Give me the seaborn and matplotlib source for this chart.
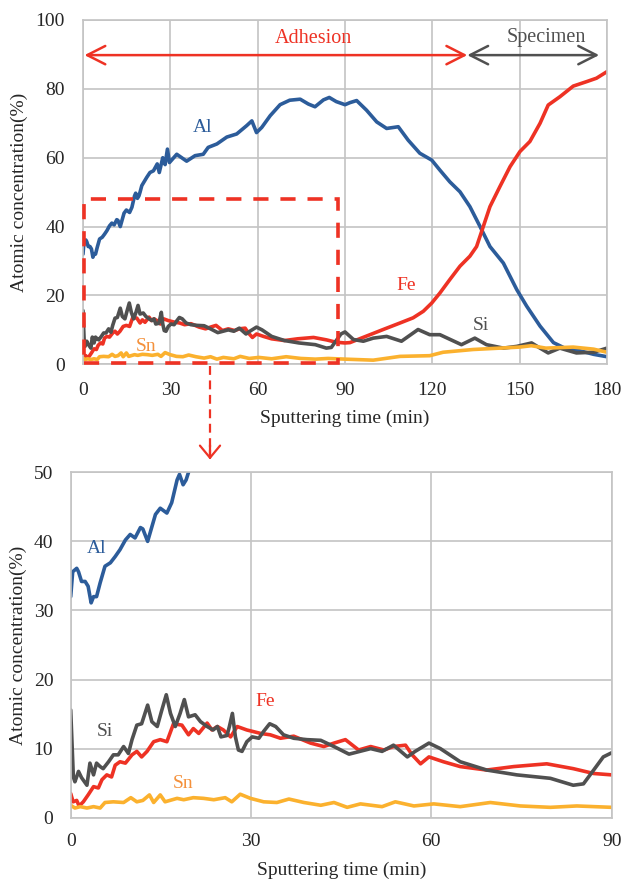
import numpy as np
import pandas as pd
import matplotlib
matplotlib.use("Agg")
import matplotlib.pyplot as plt
import seaborn as sns
from matplotlib.patches import Rectangle
from matplotlib.lines import Line2D

# ---------------- data ----------------
al_t = [0, 0.33, 1.0, 1.3, 1.8, 2.4, 2.9, 3.4, 3.8, 4.3, 4.9, 5.7, 6.6, 7.4, 8.2, 9.1, 9.9, 10.7,
        11.6, 12.0, 12.8, 13.2, 14.1, 14.9, 16.0, 16.8, 17.7, 18.1, 18.7, 19.2, 19.6, 20.2, 21.9,
        23.0, 24.2, 25.5, 26.2, 27.4, 28.2, 29.0, 29.7, 32.2, 35.6, 38.5, 41.3, 43.0, 46.0, 49.4,
        52.8, 56.2, 58.0, 59.6, 61.4, 64.3, 67.7, 71.0, 74.6, 77.4, 79.7, 82.6, 84.6, 87.0, 90.0,
        91.7, 94.0, 97.4, 100.9, 104.3, 108.3, 111.7, 115.7, 119.8, 122.6, 126.0, 129.5, 132.9,
        136.4, 139.8, 144.4, 149.0, 152.4, 157.0, 161.6, 166.2, 170.8, 175.4, 180.0]
al_v = [32.0, 35.6, 36.1, 35.6, 34.2, 34.2, 33.5, 31.1, 32.0, 32.0, 34.0, 36.4, 36.9, 37.8, 38.8,
        40.2, 41.0, 40.5, 42.0, 41.8, 40.0, 41.2, 43.9, 44.8, 44.1, 45.6, 48.9, 49.7, 48.2, 48.9,
        50.0, 51.9, 54.3, 55.7, 56.2, 58.2, 55.7, 60.0, 58.0, 62.5, 58.6, 61.0, 59.0, 60.6, 61.0,
        63.0, 64.0, 66.0, 66.9, 69.3, 70.7, 67.3, 68.8, 72.2, 75.4, 76.7, 77.0, 75.6, 74.8, 76.8,
        77.5, 76.3, 75.4, 76.0, 76.6, 73.8, 70.4, 68.5, 69.0, 65.1, 61.3, 59.3, 56.4, 53.0, 50.1,
        45.8, 40.0, 34.2, 29.4, 21.7, 16.9, 11.1, 6.3, 4.4, 3.9, 2.9, 2.2]

fe_t = [0, 0.4, 1.0, 1.4, 2.1, 2.9, 3.8, 4.6, 5.2, 6.0, 6.8, 7.4, 8.2, 9.1, 10.2, 11.0, 11.8,
        12.7, 13.8, 14.9, 16.0, 17.1, 18.5, 19.6, 20.4, 21.3, 22.7, 23.5, 24.4, 25.4, 26.6, 27.7,
        29.3, 31.6, 33.2, 34.9, 37.1, 39.9, 42.1, 43.8, 45.7, 47.9, 49.9, 52.1, 53.7, 55.7, 56.8,
        58.2, 59.6, 62.0, 64.8, 69.2, 73.7, 79.2, 83.6, 87.0, 90.0, 91.7, 97.4, 103.1, 108.9,
        113.4, 116.9, 119.8, 122.6, 126.0, 129.5, 132.9, 135.2, 137.5, 139.8, 143.2, 146.7,
        150.1, 153.5, 157.0, 159.8, 163.8, 168.4, 173.0, 176.4, 180.0]
fe_v = [3.5, 2.3, 2.5, 1.7, 2.3, 3.3, 4.5, 4.3, 5.5, 6.2, 5.9, 7.6, 8.1, 7.9, 9.1, 9.6, 8.8, 9.6,
        11.0, 11.3, 11.0, 13.6, 13.4, 12.0, 12.9, 12.2, 13.7, 12.7, 13.2, 12.7, 11.7, 13.2, 12.7,
        12.2, 12.0, 11.5, 11.8, 10.8, 10.3, 10.8, 11.3, 9.8, 10.3, 9.8, 10.3, 10.5, 9.1, 7.8, 8.8,
        8.1, 7.4, 6.9, 7.4, 7.8, 7.1, 6.4, 6.2, 6.3, 8.2, 10.1, 12.0, 13.5, 15.4, 17.8, 20.7, 24.6,
        28.5, 31.4, 34.2, 40.0, 45.8, 51.6, 57.4, 61.8, 64.7, 70.0, 75.3, 77.7, 80.8, 82.1, 83.1,
        85.0]

si_t = [0, 0.44, 0.7, 1.3, 1.8, 2.7, 3.2, 3.8, 4.3, 4.9, 5.4, 6.3, 7.1, 7.9, 8.8, 9.6, 10.2,
        11.0, 11.8, 12.8, 13.5, 14.4, 15.1, 15.9, 16.6, 17.4, 18.2, 18.9, 19.6, 20.7, 21.6, 22.7,
        23.7, 24.4, 25.0, 26.0, 26.4, 26.9, 27.4, 27.9, 28.5, 29.3, 30.2, 31.3, 32.1, 33.1, 34.1,
        35.4, 37.1, 39.3, 41.6, 43.8, 46.3, 49.9, 51.8, 53.7, 56.0, 57.3, 59.6, 61.5, 64.8, 69.2,
        74.2, 79.8, 83.6, 85.3, 87.0, 88.6, 90.0, 92.9, 96.3, 99.7, 104.3, 109.4, 115.1, 119.1,
        122.6, 130.0, 134.6, 138.6, 144.4, 149.0, 154.1, 157.0, 159.8, 163.8, 169.5, 175.4, 180.0]
si_v = [15.6, 5.9, 5.2, 6.7, 5.8, 4.7, 7.9, 6.2, 7.9, 7.4, 7.1, 8.1, 9.1, 9.1, 10.3, 9.3, 11.3,
        13.4, 13.6, 16.3, 13.9, 13.2, 15.4, 17.8, 15.1, 13.2, 15.1, 17.1, 14.6, 14.9, 13.9, 13.2,
        12.7, 13.2, 11.7, 11.9, 13.2, 15.1, 11.7, 9.8, 9.6, 11.0, 11.7, 11.5, 12.5, 13.6, 13.2,
        12.0, 11.5, 11.3, 11.2, 10.3, 9.2, 10.0, 9.6, 10.5, 8.8, 9.6, 10.8, 10.0, 8.1, 6.9, 6.2,
        5.7, 4.7, 4.9, 6.9, 8.8, 9.4, 7.2, 6.7, 7.6, 8.1, 6.7, 10.1, 8.6, 8.6, 5.7, 7.6, 5.7, 4.7,
        5.2, 6.2, 4.7, 3.3, 4.7, 3.3, 3.5, 4.7]

sn_t = [0, 0.7, 1.6, 2.7, 3.8, 4.9, 5.7, 7.1, 8.8, 10.0, 11.0, 12.0, 13.1, 13.8, 14.9, 15.7, 17.7,
        18.8, 20.4, 22.1, 23.8, 25.7, 26.8, 28.2, 29.9, 32.1, 34.3, 36.3, 38.8, 41.6, 43.8, 46.0,
        48.2, 51.8, 54.0, 57.1, 60.4, 64.8, 69.8, 74.8, 79.8, 84.2, 90.0, 99.7, 108.9, 119.1,
        123.7, 134.0, 143.2, 150.0, 154.0, 159.0, 168.4, 175.4, 180.0]
sn_v = [1.8, 1.4, 1.6, 1.4, 1.6, 1.4, 2.2, 2.3, 2.2, 2.9, 2.3, 2.5, 3.3, 2.2, 3.3, 2.3, 2.8, 2.6,
        2.9, 2.8, 2.6, 2.9, 2.3, 3.4, 2.8, 2.3, 2.2, 2.7, 2.2, 1.8, 2.2, 1.5, 2.0, 1.6, 2.3, 1.7,
        2.0, 1.6, 2.2, 1.7, 1.5, 1.7, 1.5, 1.2, 2.3, 2.5, 3.5, 4.3, 4.7, 5.0, 5.4, 4.7, 5.0, 4.4,
        3.5]

top_xticks = [0, 30, 60, 90, 120, 150, 180]
top_yticks = [0, 20, 40, 60, 80, 100]
bot_xticks = [0, 30, 60, 90]
bot_yticks = [0, 10, 20, 30, 40, 50]
xlabel = "Sputtering time (min)"
ylabel = "Atomic concentration(%)"

# ---------------- style ----------------
sns.set_style("white")
plt.rcParams["font.family"] = ["Liberation Serif", "DejaVu Serif"]

RED = "#EE3224"
BLUE = "#2C5C9A"
GRAY = "#505050"
ORANGE = "#FBB12E"
SNLAB = "#F4913C"
GRID = "#C4C4C4"
TXT = "#262626"

series = [
    ("Al", al_t, al_v, BLUE),
    ("Fe", fe_t, fe_v, RED),
    ("Si", si_t, si_v, GRAY),
    ("Sn", sn_t, sn_v, ORANGE),
]

W, H = 622, 881
fig = plt.figure(figsize=(W / 100, H / 100), dpi=100)
ax1 = fig.add_axes([83 / W, 1 - 364.3 / H, (607 - 83) / W, (364.3 - 20) / H])
ax2 = fig.add_axes([70.7 / W, 1 - 817.7 / H, 541 / W, 345.4 / H])


def style_axes(ax, xt, yt, xpad, ypad):
    ax.set_xticks(xt)
    ax.set_yticks(yt)
    ax.grid(True, color=GRID, lw=1.2)
    ax.set_axisbelow(True)
    for s in ax.spines.values():
        s.set_color(GRID)
        s.set_linewidth(1.2)
    ax.tick_params(axis="x", length=0, pad=xpad, labelsize=14, labelcolor=TXT)
    ax.tick_params(axis="y", length=0, pad=ypad, labelsize=14, labelcolor=TXT)


for ax in (ax1, ax2):
    for name, t, v, c in series:
        df = pd.DataFrame({"t": t, "v": v})
        sns.lineplot(data=df, x="t", y="v", ax=ax, color=c, lw=2.6,
                     sort=False, estimator=None, legend=False,
                     solid_joinstyle="round", solid_capstyle="round")

ax1.set_xlim(0, 180)
ax1.set_ylim(0, 100)
ax2.set_xlim(0, 90)
ax2.set_ylim(0, 50)
style_axes(ax1, top_xticks, top_yticks, 13, 13)
style_axes(ax2, bot_xticks, bot_yticks, 11, 12.5)

for ax, xly, ylx in ((ax1, -0.133, -0.105), (ax2, -0.128, -0.081)):
    ax.set_xlabel(xlabel, fontsize=14, color=TXT)
    ax.set_ylabel(ylabel, fontsize=14, color=TXT)
    ax.xaxis.set_label_coords(0.5, xly)
    ax.yaxis.set_label_coords(ylx, 0.5)

# ---------------- top annotations ----------------
ax1.text(41.1, 68.9, "Al", color=BLUE, fontsize=14, ha="center", va="center")
ax1.text(111, 23, "Fe", color=RED, fontsize=14, ha="center", va="center")
ax1.text(136.7, 11.3, "Si", color=GRAY, fontsize=14, ha="center", va="center")
ax1.text(21.5, 5.2, "Sn", color=SNLAB, fontsize=14, ha="center", va="center")

ax1.annotate("", xy=(0.5, 89.8), xytext=(132, 89.8),
             arrowprops=dict(arrowstyle="<->,head_length=0.65,head_width=0.33",
                             color=RED, lw=1.8, mutation_scale=20,
                             shrinkA=0, shrinkB=0))
ax1.annotate("", xy=(132, 89.8), xytext=(177.3, 89.8),
             arrowprops=dict(arrowstyle="<->,head_length=0.65,head_width=0.33",
                             color=GRAY, lw=1.8, mutation_scale=20,
                             shrinkA=0, shrinkB=0))
ax1.text(79, 94.6, "Adhesion", color=RED, fontsize=14.5, ha="center", va="center")
ax1.text(159, 94.8, "Specimen", color=GRAY, fontsize=14.5, ha="center", va="center")

ax1.add_patch(Rectangle((0.3, 0.3), 87.2, 47.6, fill=False, edgecolor=RED, lw=2.6,
                        ls=(0, (4.2, 3.3)), clip_on=False, zorder=5))

# dashed zoom arrow between the panels
fig.add_artist(Line2D([210 / W, 210 / W], [1 - 366 / H, 1 - 452 / H],
                      transform=fig.transFigure, color=RED, lw=1.6,
                      ls=(0, (4, 2.5))))
fig.add_artist(Line2D([210 / W, 210 / W], [1 - 450 / H, 1 - 458 / H],
                      transform=fig.transFigure, color=RED, lw=1.6))
ax1.annotate("", xy=(210 / W, 1 - 459.5 / H), xycoords="figure fraction",
             xytext=(210 / W, 1 - 445 / H), textcoords="figure fraction",
             arrowprops=dict(arrowstyle="->,head_length=0.35,head_width=0.29",
                             color=RED, lw=1.6, mutation_scale=25,
                             shrinkA=0, shrinkB=0))

# ---------------- bottom annotations ----------------
ax2.text(4.3, 39.0, "Al", color=BLUE, fontsize=14, ha="center", va="center")
ax2.text(5.7, 12.5, "Si", color=GRAY, fontsize=14, ha="center", va="center")
ax2.text(32.3, 16.8, "Fe", color=RED, fontsize=14, ha="center", va="center")
ax2.text(18.7, 5.0, "Sn", color=SNLAB, fontsize=14, ha="center", va="center")

fig.savefig("out.png", dpi=100)
